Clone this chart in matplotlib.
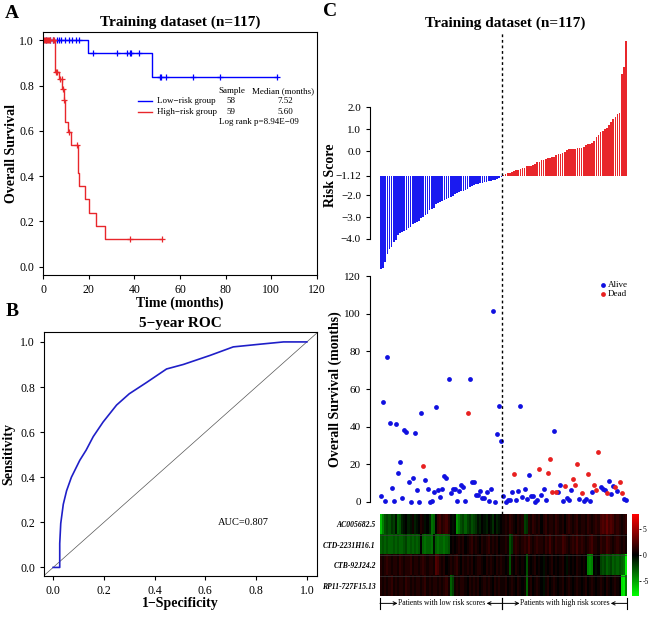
import numpy as np
import matplotlib.pyplot as plt
from matplotlib.colors import LinearSegmentedColormap
from matplotlib.transforms import blended_transform_factory

plt.rcParams['font.family'] = ['Liberation Serif', 'DejaVu Serif']

# ---- Panel A : Kaplan-Meier steps ----
low_t = [0, 19.8, 47.9]
low_s = [1.0, 0.944, 0.838]
low_end = 102.5
low_cens = [1.5, 2.9, 4.4, 6.1, 7.0, 7.8, 9.5, 11.3, 12.9, 14.3, 15.7,
            22.0, 32.6, 37.0, 38.0, 38.4, 42.2,
            51.2, 51.8, 53.7, 65.6, 77.3, 102.5]

high_t = [0, 5.1, 6.9, 8.5, 9.1, 9.7, 11.0, 12.4, 15.4, 15.9, 18.3, 20.2, 23.4, 27.1]
high_s = [1.0, 0.86, 0.828, 0.784, 0.738, 0.638, 0.594, 0.537, 0.415, 0.357,
          0.297, 0.238, 0.179, 0.121]
high_end = 52.0
high_cens = [0.3, 0.8, 1.2, 1.7, 2.2, 2.6, 3.0, 4.2, 4.6, 5.9, 6.3, 7.4, 8.3,
             8.7, 9.3, 11.3, 15.0, 38.0, 52.0]

# ---- Panel B : ROC curve ----
fpr = [0.0, 0.026, 0.026, 0.030, 0.040, 0.053, 0.072, 0.105, 0.130, 0.158, 0.197,
       0.250, 0.300, 0.368, 0.447, 0.513, 0.618, 0.710, 0.816, 0.908, 1.0]
tpr = [0.0, 0.0, 0.106, 0.195, 0.280, 0.340, 0.400, 0.475, 0.520, 0.580, 0.645,
       0.720, 0.770, 0.820, 0.880, 0.900, 0.940, 0.978, 0.990, 1.0, 1.0]

# ---- Panel C : risk score, survival and expression ----
cutoff = -1.12
low_risk = [-5.35, -5.30, -5.06, -4.68, -4.45, -4.35, -4.12, -4.05, -3.80, -3.75,
            -3.66, -3.62, -3.58, -3.48, -3.45, -3.30, -3.26, -3.24, -3.20, -3.05,
            -3.00, -2.90, -2.85, -2.70, -2.64, -2.60, -2.40, -2.35, -2.30, -2.26,
            -2.23, -2.20, -2.14, -2.10, -2.05, -1.95, -1.90, -1.87, -1.84, -1.80,
            -1.77, -1.72, -1.62, -1.58, -1.55, -1.52, -1.50, -1.47, -1.44, -1.42,
            -1.40, -1.38, -1.36, -1.34, -1.31, -1.28, -1.22, -1.16]
high_risk = [-1.08, -1.05, -1.02, -1.00, -0.96, -0.90, -0.88, -0.85, -0.80, -0.78,
             -0.76, -0.70, -0.68, -0.66, -0.62, -0.58, -0.52, -0.48, -0.42, -0.40,
             -0.36, -0.32, -0.30, -0.27, -0.25, -0.18, -0.15, -0.12, -0.10, -0.05,
             0.05, 0.07, 0.09, 0.10, 0.11, 0.12, 0.14, 0.15, 0.18, 0.28,
             0.30, 0.32, 0.35, 0.45, 0.65, 0.72, 0.85, 0.90, 1.00, 1.05,
             1.20, 1.30, 1.45, 1.55, 1.68, 1.75, 3.50, 3.80, 5.00]

low_months = [3.4, 53.3, 0.5, 76.8, 41.8, 7.3, 0.5, 41.4, 15.2, 21.4,
              1.9, 38.1, 37.3, 10.8, 0.0, 12.7, 36.6, 6.5, 0.0, 47.4,
              19.1, 11.9, 6.9, 0.0, 0.4, 5.5, 50.6, 6.2, 2.5, 6.9,
              14.0, 12.7, 65.5, 4.6, 6.9, 6.9, 0.7, 5.7, 8.9, 7.8,
              0.7, 47.1, 65.1, 10.6, 10.6, 3.9, 3.9, 6.0, 1.9, 1.9,
              5.5, 0.7, 7.1, 101.6, 0.0, 36.3, 51.0, 32.2]
low_dead = [0, 0, 0, 0, 0, 0, 0, 0, 0, 0,
            0, 0, 0, 0, 0, 0, 0, 0, 0, 0,
            1, 0, 0, 0, 0, 0, 0, 0, 0, 0,
            0, 0, 0, 0, 0, 0, 0, 0, 0, 0,
            0, 1, 0, 0, 0, 0, 0, 0, 0, 0,
            0, 0, 0, 0, 0, 0, 0, 0]
high_months = [3.4, 0.0, 1.0, 1.0, 5.5, 15.0, 1.0, 6.0, 51.0, 2.5,
               7.0, 1.4, 14.3, 3.4, 3.2, 0.2, 1.0, 17.5, 3.9, 6.7,
               1.0, 15.4, 22.8, 5.1, 37.5, 5.1, 5.3, 9.0, 0.4, 8.3,
               2.0, 1.0, 6.4, 12.2, 8.8, 20.0, 1.8, 4.6, 0.5, 1.4,
               15.0, 0.5, 5.5, 8.8, 6.4, 26.4, 7.8, 6.7, 6.4, 5.0,
               11.2, 4.4, 8.5, 8.1, 5.8, 10.6, 5.0, 1.8, 1.0]
high_dead = [0, 0, 0, 0, 0, 1, 0, 0, 0, 0,
             0, 0, 0, 0, 0, 0, 0, 1, 0, 0,
             0, 1, 1, 1, 0, 1, 0, 0, 0, 1,
             0, 0, 0, 1, 1, 1, 0, 1, 0, 0,
             1, 0, 0, 1, 1, 1, 0, 0, 0, 1,
             0, 0, 0, 1, 0, 1, 1, 0, 0]

genes = ['AC005682.5', 'CTD-2231H16.1', 'CTB-92J24.2', 'RP11-727F15.13']
expr_1 = [-6, -4, -2.5, -2, -2.5, -1.5, -2, -0.5, -3, -2.5,
          -1, -0.5, 0, -1, -0.5, 0.5, -1, -0.5, 0, 1,
          0.5, -0.5, 0, -1, -3.5, -3, 0, 1.5, 2, 1,
          1.5, 2, 1, 0, -0.5, 0, -4.5, -3.5, -2.5, -2,
          -3, -2, -1.5, -2.5, -2, -1.5, -0.5, -1, 0, -0.5,
          -1, 0, -0.5, -1.5, 0, -1, -0.5, 0,
          0.5, 1, 0.5, 1.5, 1, 0.5, 0, 1, 0.5, 1,
          -2, -1.5, 1, 0.5, 1.5, 1, 0.5, 1, 0, 1,
          1.5, 0.5, 1, 1, 0.5, 1.5, 1, 0.5, 1, 0,
          1, 1.5, 1, 0.5, 1, 1.5, 0.5, 1, 1, 0.5,
          1.5, 1, 0.5, 1, 1.5, 1, 2, 2.5, 2, 3,
          2, 2.5, 2, 1, 1.5, 1, 0.5, 1, 1.5]
expr_2 = [-3, -2.5, -3, -2.5, -3, -3, -2.5, -3, -2.5, -3,
          -3, -2.5, -2, -3, -2.5, -3, -2.5, -3, -2.5, 0,
          -3, -3.5, -3, -3, -3.5, -0.5, -3, -3.5, -3, -3,
          -3.5, -3, -2.5, 0, 0.5, 0, 0.5, 1, 0.5, 1,
          0, 0.5, 1, 1.5, 0.5, 1, 0.5, 0, 1, 0.5,
          1, 1.5, 0.5, 1, 0.5, 1, 0, 0.5,
          0.5, 1, 0.5, -2.5, -1.5, 1, 1.5, 1, 0.5, 1,
          1.5, 1, 2, 1, 0.5, 1, 1.5, 1, 1, 0.5,
          1.5, 1, 2, 1, 0.5, 1.5, 1, 1, 2, 1.5,
          1, 0.5, 1, 1.5, 1, 2, 1, 1.5, 1, 0.5,
          1, 1.5, 2, 1, 1, 0.5, 1.5, 1, 1, 2,
          1.5, 1, 0.5, 1, 1.5, 1, 0.5, 1, 0.5]
expr_3 = [1, 0.5, 1, 1.5, 1, 0.5, 1, 1, 0.5, 1.5,
          1, 0.5, 1, 1, 1.5, 0.5, 1, 1, 0.5, 1,
          1.5, 1, 0.5, 1, 1, 0.5, 2.5, 2, 1, 0.5,
          1, 0, 0.5, 1, 0.5, 1, 1.5, 0.5, 0, 1,
          0.5, 1, 0.5, 1, 0, 0.5, 1, 1, 0.5, 0,
          1, 0.5, 1, 0.5, 0, 1, 0.5, 1,
          0.5, 0, 0.5, -2.5, 0.5, 0, 1, 0.5, 0, 0.5,
          0, -2.5, 0.5, 0, 0.5, 1, 0, 0.5, 0, -0.5,
          0.5, 0, 0.5, 1, 0, 0.5, 0, 0.5, 1, 0,
          -0.5, 0.5, 0, 0.5, 0, 1, 0.5, 0, 0.5, 0,
          -4, -4.5, -4, 0, -0.5, 0, -2, -2.5, -2, -3,
          -2.5, -2, -3, -2.5, -3, -2.5, -3, -3.5, -7.5]
expr_4 = [1, 0.5, 1, 0.5, 1, 1.5, 0.5, 1, 0.5, 1,
          1, 0.5, 1.5, 1, 0.5, 1, 0.5, 1, 1, 0.5,
          1, 1.5, 0.5, 1, 0.5, 1, 1, 0.5, 1, 0.5,
          1, 1.5, 0.5, -3, -2, 0.5, 1, 0.5, 1, 1,
          0.5, 0, 1, 0.5, 1, 0.5, 1, 0, 0.5, 1,
          0.5, 1, 0.5, 0, 1, 0.5, 1, 0.5,
          0.5, 1, 0, 0.5, 1, 0.5, 0, 1, 0.5, 0,
          0.5, -3, 0.5, 1, 0, 0.5, 1, 0.5, 0, -0.5,
          0.5, 1, 0, 0.5, 1, 0.5, 0, 0.5, 1, 0,
          0.5, 1, 0.5, 0, 0.5, 1, 0.5, 0, 0.5, 1,
          0, 0.5, 1, 0.5, 0, 0.5, 1, 0.5, 0, 1,
          0.5, 0, 0.5, 1, 0.5, 0, -7, -7.5, -4]

W, H = 650, 617


def box(l, t, r, b):
    # pixel box -> figure fraction
    return [l / W, 1 - b / H, (r - l) / W, (b - t) / H]


BLUE = '#1a1af0'
RED = '#e8262b'

fig = plt.figure(figsize=(6.5, 6.17), dpi=100)

# ================= A =================
axA = fig.add_axes(box(43, 32, 317, 275))
for t, s, tend, cens, col in [(low_t, low_s, low_end, low_cens, 'blue'),
                              (high_t, high_s, high_end, high_cens, RED)]:
    axA.step(list(t) + [tend], list(s) + [s[-1]], where='post', color=col, lw=1)
    idx = np.searchsorted(t, cens, side='right') - 1
    axA.plot(cens, np.array(s)[idx], '+', color=col, ms=5, mew=0.9)
axA.set_xlim(0, 120)
axA.set_ylim(-0.037, 1.037)
axA.set_xticks(range(0, 121, 20))
axA.set_yticks(np.arange(0, 1.01, 0.2))
axA.set_yticklabels(['%.1f' % v for v in np.arange(0, 1.01, 0.2)])
axA.tick_params(labelsize=8.5, length=3, width=0.8)
axA.set_xlabel('Time (months)', fontsize=10, fontweight='bold')
axA.set_ylabel('Overall Survival', fontsize=10, fontweight='bold')
axA.xaxis.set_label_coords(0.5, -0.088)
axA.yaxis.set_label_coords(-0.093, 0.5)
for sp in axA.spines.values():
    sp.set_linewidth(0.8)

# legend block
axA.plot([0.347, 0.398], [0.716, 0.716], color='blue', lw=1, transform=axA.transAxes)
axA.plot([0.347, 0.398], [0.671, 0.671], color=RED, lw=1, transform=axA.transAxes)
lg = dict(fontsize=6.5, transform=axA.transAxes, va='center')
axA.text(0.416, 0.716, 'Low\u2212risk group', **lg)
axA.text(0.416, 0.671, 'High\u2212risk group', **lg)
axA.text(0.639, 0.757, 'Sample', **lg)
axA.text(0.763, 0.757, 'Median (months)', **lg)
axA.text(0.686, 0.716, '58', ha='center', **lg)
axA.text(0.686, 0.671, '59', ha='center', **lg)
axA.text(0.883, 0.716, '7.52', ha='center', **lg)
axA.text(0.883, 0.671, '5.60', ha='center', **lg)
axA.text(0.642, 0.630, 'Log rank p=8.94E\u221209', **lg)

fig.text(180 / W, 1 - 22 / H, 'Training dataset (n=117)', ha='center', va='center',
         fontsize=11, fontweight='bold')
fig.text(5 / W, 1 - 13 / H, 'A', fontsize=14, fontweight='bold', va='center')

# ================= B =================
axB = fig.add_axes(box(44, 332, 317, 576))
axB.plot([-0.1, 1.1], [-0.1, 1.1], color='#555555', lw=0.5)
axB.plot(fpr, tpr, color='#1f1fc8', lw=1.2)
axB.set_xlim(-0.036, 1.04)
axB.set_ylim(-0.038, 1.044)
ticks = np.arange(0, 1.01, 0.2)
axB.set_xticks(ticks)
axB.set_xticklabels(['%.1f' % v for v in ticks])
axB.set_yticks(ticks)
axB.set_yticklabels(['%.1f' % v for v in ticks])
axB.tick_params(labelsize=8.5, length=3, width=0.8)
axB.set_xlabel('1\u2212Specificity', fontsize=10, fontweight='bold')
axB.set_ylabel('Sensitivity', fontsize=10, fontweight='bold')
axB.xaxis.set_label_coords(0.5, -0.085)
axB.yaxis.set_label_coords(-0.104, 0.5)
for sp in axB.spines.values():
    sp.set_linewidth(0.8)
axB.text(0.75, 0.2, 'AUC=0.807', fontsize=7.5, ha='center', va='center')
fig.text(180 / W, 1 - 323 / H, '5\u2212year ROC', ha='center', va='center',
         fontsize=11, fontweight='bold')
fig.text(6 / W, 1 - 312 / H, 'B', fontsize=14, fontweight='bold', va='center')

# ================= C =================
risk = np.array(low_risk + high_risk)
months = np.array(low_months + high_months)
dead = np.array(low_dead + high_dead)
n = len(risk)
idx = np.arange(n)
nlow = len(low_risk)
xl = (-5.24, 117.93)

axR = fig.add_axes(box(370, 38, 630, 270))
cols = [BLUE] * nlow + [RED] * (n - nlow)
axR.bar(idx, risk - cutoff, bottom=cutoff, width=0.8, color=cols, linewidth=0)
axR.set_xlim(*xl)
axR.set_ylim(-5.41, 5.14)
rt = [2.0, 1.0, 0.0, -1.12, -2.0, -3.0, -4.0]
axR.set_yticks(rt)
axR.set_yticklabels(['2.0', '1.0', '0.0', '\u22121.12', '\u22122.0', '\u22123.0', '\u22124.0'])
axR.spines['left'].set_bounds(-4.0, 2.0)
for k in ['top', 'right', 'bottom']:
    axR.spines[k].set_visible(False)
axR.set_xticks([])
axR.tick_params(labelsize=8, length=3, width=0.8)
axR.spines['left'].set_linewidth(0.8)
axR.set_ylabel('Risk Score', fontsize=10, fontweight='bold')
axR.yaxis.set_label_coords(-0.128, 0.41)
axR.axvline(nlow - 0.5, ymin=0, ymax=1.02, color='black', lw=1,
            ls=(0, (2, 2)), clip_on=False)

axS = fig.add_axes(box(370, 270, 630, 508))
axS.scatter(idx[dead == 0], months[dead == 0], s=12, color='#1010e0', linewidths=0)
axS.scatter(idx[dead == 1], months[dead == 1], s=12, color='#e82020', linewidths=0)
axS.set_xlim(*xl)
axS.set_ylim(-3.2, 123.2)
axS.set_yticks(range(0, 121, 20))
axS.spines['left'].set_bounds(0, 120)
for k in ['top', 'right', 'bottom']:
    axS.spines[k].set_visible(False)
axS.set_xticks([])
axS.tick_params(labelsize=8, length=3, width=0.8)
axS.spines['left'].set_linewidth(0.8)
axS.set_ylabel('Overall Survival (months)', fontsize=10, fontweight='bold')
axS.yaxis.set_label_coords(-0.106, 0.5)
axS.axvline(nlow - 0.5, ymin=-0.025, ymax=1, color='black', lw=1,
            ls=(0, (2, 2)), clip_on=False)
axS.scatter([0.896], [0.937], s=12, color='#1010e0', transform=axS.transAxes, linewidths=0)
axS.scatter([0.896], [0.899], s=12, color='#e82020', transform=axS.transAxes, linewidths=0)
axS.text(0.915, 0.937, 'Alive', fontsize=6.5, va='center', transform=axS.transAxes)
axS.text(0.915, 0.899, 'Dead', fontsize=6.5, va='center', transform=axS.transAxes)

fig.text(505 / W, 1 - 23 / H, 'Training dataset (n=117)', ha='center', va='center',
         fontsize=11, fontweight='bold')
fig.text(323 / W, 1 - 11 / H, 'C', fontsize=14, fontweight='bold', va='center')

# heatmap
gkr = LinearSegmentedColormap.from_list('gkr', ['#00ff00', '#000000', '#ff0000'])
expr = np.array([expr_1, expr_2, expr_3, expr_4], dtype=float)
axH = fig.add_axes(box(380, 514, 627, 596))
axH.imshow(expr, cmap=gkr, vmin=-8, vmax=8, aspect='auto', interpolation='nearest')
for yy in [0.5, 1.5, 2.5]:
    axH.axhline(yy, color='#3a3a3a', lw=0.5)
axH.set_xticks([])
axH.set_yticks(range(4))
axH.set_yticklabels(genes, fontsize=5.5, fontweight='bold', fontstyle='italic')
axH.tick_params(length=0, pad=3)
for sp in axH.spines.values():
    sp.set_visible(False)

tr = blended_transform_factory(axH.transData, axH.transAxes)
yb = -0.09
for a, b, t0, t1, lab in [(-0.5, nlow - 0.5, 7.8, 50.0, 'Patients with low risk scores'),
                          (nlow - 0.5, n - 0.5, 65.6, 108.8, 'Patients with high risk scores')]:
    for xx in (a, b):
        axH.plot([xx, xx], [-0.02, -0.16], color='black', lw=0.8, transform=tr, clip_on=False)
    axH.annotate('', xy=(t0, yb), xytext=(a, yb), xycoords=tr, textcoords=tr,
                 arrowprops=dict(arrowstyle='->', lw=0.7, color='black',
                                 shrinkA=0, shrinkB=0, mutation_scale=6))
    axH.annotate('', xy=(t1, yb), xytext=(b, yb), xycoords=tr, textcoords=tr,
                 arrowprops=dict(arrowstyle='->', lw=0.7, color='black',
                                 shrinkA=0, shrinkB=0, mutation_scale=6))
    axH.text((t0 + t1) / 2, yb, lab, fontsize=5.5, ha='center', va='center', transform=tr)

axC = fig.add_axes(box(632, 514, 639, 596))
axC.imshow(np.linspace(8, -8, 200)[:, None], cmap=gkr, vmin=-8, vmax=8,
           aspect='auto', extent=(0, 1, -8, 8))
axC.yaxis.tick_right()
axC.set_yticks([5, 0, -5])
axC.set_yticklabels(['5', '0', '-5'], fontsize=5.5)
axC.set_xticks([])
axC.tick_params(length=1.5, width=0.6, pad=1)
for sp in axC.spines.values():
    sp.set_visible(False)

fig.savefig('out.png', dpi=100)
